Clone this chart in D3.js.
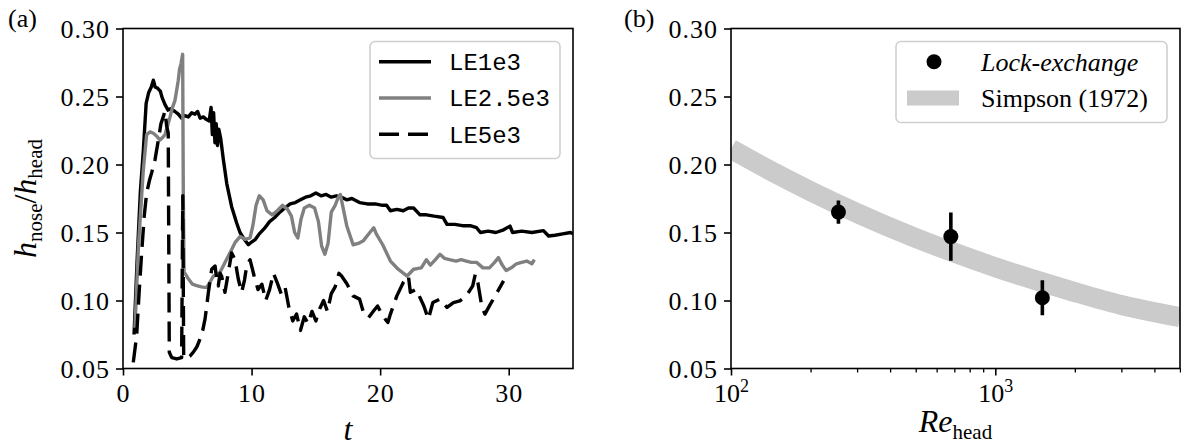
<!DOCTYPE html>
<html><head><meta charset="utf-8">
<script src="https://cdn.jsdelivr.net/npm/d3@7"></script>
<style>
html,body{margin:0;padding:0;background:#fff;}
svg{display:block;}
text{font-family:"Liberation Serif","DejaVu Serif",serif;fill:#000;}
text.mono{font-family:"Liberation Mono","DejaVu Sans Mono",monospace;}
</style></head>
<body>
<svg id="c" width="1181" height="448"></svg>
<script>
// ---------- data ----------
const le1e3_t = [0.86,1.1,1.35,1.58,1.8,2.0,2.2,2.36,2.5,2.7,2.9,3.05,3.27,3.5,3.7,4.04,4.3,4.56,4.8,5.08,5.34,5.6,5.8,6.0,6.25,6.5,6.7,6.85,6.95,7.05,7.15,7.25,7.35,7.45,7.6,7.8,8.07,8.45,8.84,9.1,9.36,9.75,10.0,10.3,10.6,11.0,11.4,11.8,12.2,12.6,13.0,13.4,13.8,14.2,14.6,15.0,15.4,15.8,16.2,16.6,17.0,17.4,17.8,18.4,19.0,19.6,20.2,20.5,20.8,21.3,21.8,22.2,22.6,23.1,23.6,24.2,24.9,25.2,25.8,26.4,27.0,27.5,27.8,28.4,29.0,29.6,30.1,30.3,31.0,31.8,32.7,33.1,33.6,34.2,34.8,35.0];
const le1e3_v = [0.075,0.13,0.18,0.21,0.245,0.253,0.257,0.262,0.257,0.256,0.254,0.249,0.244,0.240,0.241,0.239,0.237,0.234,0.236,0.235,0.238,0.237,0.239,0.234,0.235,0.233,0.232,0.242,0.222,0.238,0.216,0.230,0.214,0.226,0.219,0.204,0.186,0.169,0.157,0.150,0.146,0.141,0.143,0.145,0.149,0.153,0.158,0.161,0.165,0.168,0.171,0.172,0.174,0.176,0.177,0.179,0.177,0.178,0.176,0.177,0.176,0.174,0.175,0.172,0.171,0.171,0.170,0.170,0.166,0.167,0.166,0.168,0.168,0.163,0.163,0.162,0.161,0.156,0.156,0.155,0.155,0.1535,0.150,0.151,0.150,0.152,0.1547,0.150,0.151,0.150,0.1514,0.1474,0.148,0.149,0.150,0.149];

const le25e3_t = [0.93,1.2,1.58,1.84,2.1,2.36,2.6,2.88,3.1,3.27,3.45,3.66,3.85,4.04,4.2,4.3,4.4,4.51,4.58,4.64,4.69,4.75,4.82,5.08,5.4,5.73,6.1,6.5,6.8,7.03,7.3,7.54,7.93,8.32,8.71,9.1,9.49,9.88,10.1,10.35,10.6,10.9,11.2,11.6,12.0,12.4,12.8,13.1,13.35,13.6,13.85,14.1,14.5,14.9,15.2,15.45,15.7,15.95,16.2,16.5,16.75,16.9,17.1,17.4,17.9,18.3,18.7,19.2,19.5,19.7,20.2,20.8,21.4,22.1,22.6,23.2,23.6,23.9,24.3,24.65,25.0,25.4,25.9,26.3,26.7,27.1,27.5,28.0,28.5,28.9,29.2,29.5,29.8,30.2,30.6,31.0,31.4,31.8,32.0];
const le25e3_v = [0.08,0.14,0.196,0.222,0.224,0.223,0.221,0.218,0.220,0.222,0.228,0.235,0.242,0.247,0.256,0.262,0.270,0.274,0.278,0.281,0.177,0.121,0.120,0.116,0.112,0.111,0.110,0.1095,0.114,0.118,0.119,0.1205,0.128,0.135,0.1425,0.147,0.145,0.146,0.155,0.170,0.177,0.174,0.166,0.163,0.166,0.170,0.167,0.162,0.150,0.146,0.160,0.168,0.170,0.168,0.158,0.140,0.134,0.142,0.165,0.170,0.176,0.178,0.169,0.155,0.141,0.142,0.144,0.150,0.1535,0.149,0.141,0.129,0.123,0.118,0.123,0.124,0.130,0.126,0.130,0.134,0.131,0.130,0.129,0.130,0.129,0.128,0.128,0.124,0.124,0.128,0.1315,0.126,0.122,0.124,0.127,0.128,0.129,0.127,0.130];

const le5e3_t = [0.8,1.06,1.25,1.45,1.65,1.84,2.05,2.23,2.49,2.75,2.95,3.13,3.26,3.4,3.52,3.55,3.6,3.79,4.18,4.56,4.65,4.72,4.95,5.2,5.47,5.75,5.99,6.2,6.38,6.5,6.64,6.9,7.16,7.3,7.41,7.55,7.67,7.8,7.93,8.19,8.45,8.71,8.97,9.23,9.45,9.62,9.88,10.2,10.5,10.8,11.1,11.4,11.7,12.0,12.3,12.6,12.9,13.2,13.5,13.8,14.1,14.4,14.7,15.0,15.3,15.6,15.9,16.2,16.5,16.8,17.0,17.4,17.9,18.4,18.7,19.1,19.5,19.8,20.2,20.6,20.8,21.3,21.8,22.2,22.35,22.8,23.4,23.75,24.1,24.65,25.2,25.7,26.2,26.7,27.2,27.4,27.6,27.9,28.15,28.5,29.1,29.6];
const le5e3_v = [0.0545,0.074,0.105,0.135,0.162,0.179,0.188,0.194,0.2036,0.218,0.230,0.235,0.239,0.228,0.223,0.16,0.062,0.058,0.057,0.058,0.177,0.058,0.058,0.059,0.062,0.066,0.0716,0.078,0.0863,0.095,0.1059,0.123,0.1254,0.115,0.1107,0.120,0.118,0.112,0.106,0.1205,0.135,0.130,0.1156,0.106,0.115,0.1254,0.130,0.118,0.108,0.112,0.100,0.108,0.120,0.113,0.105,0.110,0.095,0.085,0.090,0.078,0.088,0.083,0.092,0.085,0.094,0.100,0.092,0.105,0.110,0.120,0.118,0.1125,0.1034,0.101,0.0912,0.0875,0.0924,0.096,0.0887,0.0838,0.090,0.1034,0.1132,0.118,0.106,0.1083,0.096,0.0863,0.0985,0.101,0.0949,0.0985,0.0997,0.1034,0.1107,0.1193,0.1132,0.096,0.090,0.096,0.106,0.1144];

const seriesNames = ["LE1e3","LE2.5e3","LE5e3"];

// panel (b)
const lockRe  = [255, 679, 1507];
const lockVal = [0.165, 0.147, 0.102];
const lockErr = [0.0085, 0.0177, 0.0128];
const simpsonRe  = [100,150,200,300,500,700,1000,1500,2000,3000,5000];
const simpsonVal = [0.2115,0.1927,0.1804,0.1643,0.1460,0.1352,0.1245,0.1135,0.1062,0.0967,0.0877];

const yTicks  = [0.05,0.10,0.15,0.20,0.25,0.30];
const xTicksA = [0,10,20,30];
const xTicksB = [100,1000];
const xMinorB = [200,300,400,500,600,700,800,900,2000,3000,4000,5000];

// ---------- layout ----------
const svg = d3.select("#c");
const yTop = 28.5, yBot = 368.5;
const A = {l:123, r:573}, B = {l:731, r:1180};
const y = d3.scaleLinear().domain([0.05,0.30]).range([yBot,yTop]);
const xA = d3.scaleLinear().domain([0,35]).range([A.l,A.r]);
const xB = d3.scaleLog().domain([100,5000]).range([B.l,B.r]);
const FS = 26;
const spineW = 1.6;

const defs = svg.append("defs");
defs.append("clipPath").attr("id","clipA").append("rect").attr("x",A.l).attr("y",yTop).attr("width",A.r-A.l).attr("height",yBot-yTop);
defs.append("clipPath").attr("id","clipB").append("rect").attr("x",B.l).attr("y",yTop).attr("width",B.r-B.l).attr("height",yBot-yTop);

function yAxis(xl){
  const g = svg.append("g").attr("transform",`translate(${xl},0)`)
    .call(d3.axisLeft(y).tickValues(yTicks).tickSize(7).tickPadding(6).tickFormat(d3.format(".2f")));
  g.attr("font-family",null);
  g.select(".domain").remove();
  g.selectAll(".tick line").attr("stroke","#000").attr("stroke-width",spineW);
  g.selectAll(".tick text").attr("font-size",FS).attr("letter-spacing","1px").attr("dy","0.34em");
}

// ---------- panel (a) ----------
const gA = svg.append("g").attr("clip-path","url(#clipA)");
const lineA = (ts,vs)=> d3.line().x((d,i)=>xA(ts[i])).y((d,i)=>y(vs[i]))(ts);
gA.append("path").attr("d",lineA(le1e3_t,le1e3_v)).attr("fill","none").attr("stroke","#000").attr("stroke-width",3.4).attr("stroke-linejoin","round");
gA.append("path").attr("d",lineA(le25e3_t,le25e3_v)).attr("fill","none").attr("stroke","#808080").attr("stroke-width",3.4).attr("stroke-linejoin","round");
gA.append("path").attr("d",lineA(le5e3_t,le5e3_v)).attr("fill","none").attr("stroke","#000").attr("stroke-width",3.4).attr("stroke-dasharray","20,9").attr("stroke-linejoin","round");

svg.append("rect").attr("x",A.l).attr("y",yTop).attr("width",A.r-A.l).attr("height",yBot-yTop).attr("fill","none").attr("stroke","#000").attr("stroke-width",spineW);
yAxis(A.l);
const gxA = svg.append("g").attr("transform",`translate(0,${yBot})`)
  .call(d3.axisBottom(xA).tickValues(xTicksA).tickSize(7).tickPadding(8).tickFormat(d3.format("d")));
gxA.attr("font-family",null);
gxA.select(".domain").remove();
gxA.selectAll(".tick line").attr("stroke","#000").attr("stroke-width",spineW);
gxA.selectAll(".tick text").attr("font-size",FS).attr("letter-spacing","1px");

// legend (a)
const legA = svg.append("g");
legA.append("rect").attr("x",370).attr("y",41.5).attr("width",190).attr("height",117).attr("rx",5)
  .attr("fill","rgba(255,255,255,0.8)").attr("stroke","#d0d0d0").attr("stroke-width",1.6);
const legStyles = [{c:"#000",d:null},{c:"#808080",d:null},{c:"#000",d:"20,9"}];
seriesNames.forEach((n,i)=>{
  const yy = 61.7 + i*36.3;
  const ln = legA.append("line").attr("x1",379).attr("x2",431).attr("y1",yy).attr("y2",yy)
    .attr("stroke",legStyles[i].c).attr("stroke-width",3.4);
  if(legStyles[i].d) ln.attr("stroke-dasharray",legStyles[i].d);
  legA.append("text").attr("class","mono").attr("x",449).attr("y",yy).attr("dy","0.35em")
    .attr("font-size",24).text(n);
});

// labels (a)
svg.append("text").attr("x",8).attr("y",27).attr("font-size",FS).text("(a)");
svg.append("text").attr("x",(A.l+A.r)/2).attr("y",440).attr("text-anchor","middle").attr("font-size",32).attr("font-style","italic").text("t");
const yl = svg.append("text").attr("transform",`translate(36,${(yTop+yBot)/2}) rotate(-90)`).attr("text-anchor","middle").attr("font-size",32);
yl.append("tspan").attr("font-style","italic").text("h");
yl.append("tspan").attr("font-size",21).attr("dy",6).text("nose");
yl.append("tspan").attr("dy",-6).text("/");
yl.append("tspan").attr("font-style","italic").text("h");
yl.append("tspan").attr("font-size",21).attr("dy",6).text("head");

// ---------- panel (b) ----------
const gB = svg.append("g").attr("clip-path","url(#clipB)");
gB.append("path").attr("d", d3.line().x((d,i)=>xB(simpsonRe[i])).y((d,i)=>y(simpsonVal[i])).curve(d3.curveMonotoneX)(simpsonRe))
  .attr("fill","none").attr("stroke","#cbcbcb").attr("stroke-width",20);
lockRe.forEach((r,i)=>{
  gB.append("line").attr("x1",xB(r)).attr("x2",xB(r)).attr("y1",y(lockVal[i]-lockErr[i])).attr("y2",y(lockVal[i]+lockErr[i]))
    .attr("stroke","#000").attr("stroke-width",3.6);
  gB.append("circle").attr("cx",xB(r)).attr("cy",y(lockVal[i])).attr("r",7.5).attr("fill","#000");
});
svg.append("rect").attr("x",B.l).attr("y",yTop).attr("width",B.r-B.l).attr("height",yBot-yTop).attr("fill","none").attr("stroke","#000").attr("stroke-width",spineW);
yAxis(B.l);
const gxB = svg.append("g").attr("transform",`translate(0,${yBot})`)
  .call(d3.axisBottom(xB).tickValues(xTicksB).tickSize(7).tickPadding(8).tickFormat(()=>""));
gxB.attr("font-family",null);
gxB.select(".domain").remove();
gxB.selectAll(".tick line").attr("stroke","#000").attr("stroke-width",spineW);
gxB.selectAll(".tick text").each(function(d){
  const t = d3.select(this).attr("font-size",FS);
  t.append("tspan").text("10");
  t.append("tspan").attr("font-size",18).attr("dy",-10).text(String(Math.round(Math.log10(d))));
});
const gxBm = svg.append("g").attr("transform",`translate(0,${yBot})`)
  .call(d3.axisBottom(xB).tickValues(xMinorB).tickSize(4).tickFormat(()=>""));
gxBm.select(".domain").remove();
gxBm.selectAll(".tick line").attr("stroke","#000").attr("stroke-width",1.3);

// legend (b)
const legB = svg.append("g");
legB.append("rect").attr("x",896).attr("y",41.5).attr("width",271).attr("height",81).attr("rx",5)
  .attr("fill","rgba(255,255,255,0.8)").attr("stroke","#d0d0d0").attr("stroke-width",1.6);
legB.append("circle").attr("cx",934).attr("cy",61.7).attr("r",7.5).attr("fill","#000");
legB.append("text").attr("x",981).attr("y",61.7).attr("dy","0.35em").attr("font-size",FS).attr("font-style","italic").text("Lock-exchange");
legB.append("rect").attr("x",907).attr("y",98-7.5).attr("width",52).attr("height",15).attr("fill","#cbcbcb");
legB.append("text").attr("x",981).attr("y",98).attr("dy","0.35em").attr("font-size",FS).text("Simpson (1972)");

// labels (b)
svg.append("text").attr("x",624).attr("y",27).attr("font-size",FS).text("(b)");
const xl = svg.append("text").attr("x",(B.l+B.r)/2).attr("y",432).attr("text-anchor","middle").attr("font-size",32);
xl.append("tspan").attr("font-style","italic").text("Re");
xl.append("tspan").attr("font-size",21).attr("dy",7).text("head");
</script>
</body></html>
